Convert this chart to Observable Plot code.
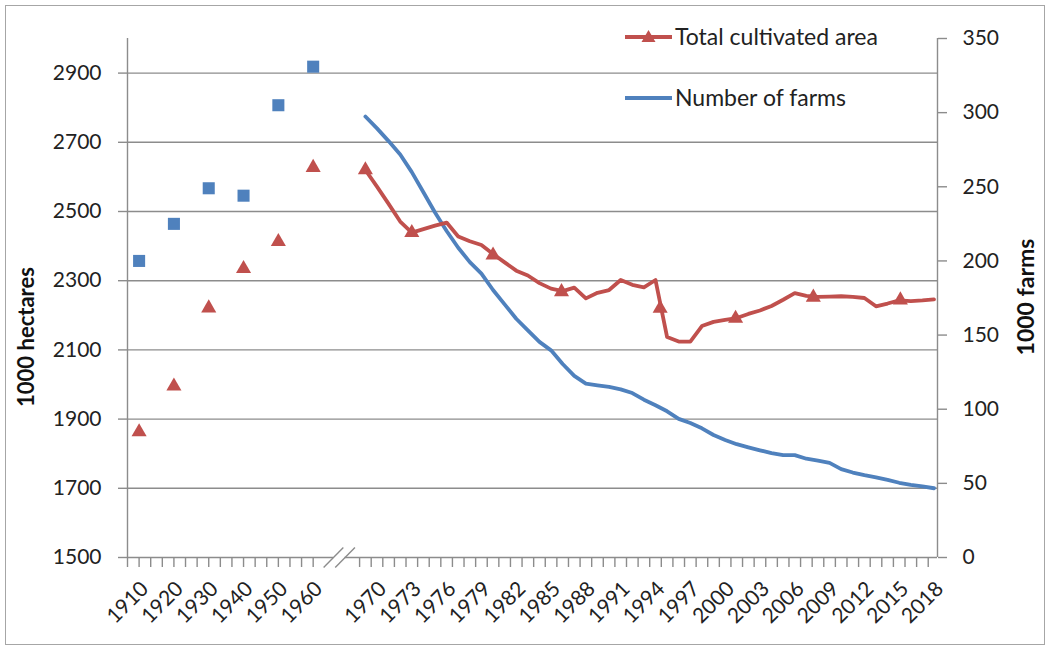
<!DOCTYPE html>
<html>
<head>
<meta charset="utf-8">
<script src="https://cdn.jsdelivr.net/npm/d3@7"></script>
<script src="https://cdn.jsdelivr.net/npm/@observablehq/plot@0.6"></script>
<style>
  body { margin: 0; background: #fff; font-family: Lato, "Noto Sans", sans-serif; }
  #wrap { position: relative; width: 1051px; height: 655px; overflow: hidden; background: #fff; }
  #frame { position: absolute; left: 5px; top: 5px; width: 1040px; height: 640px; border: 1px solid #a6a6a6; box-sizing: border-box; }
  #chart { position: absolute; left: 0; top: 0; }
  .ytitle { position: absolute; font-weight: bold; font-size: 22px; color: #111; white-space: nowrap;
            transform: translate(-50%, -50%) rotate(-90deg); }
  .leg { position: absolute; font-size: 23px; color: #222; white-space: nowrap; }
  .leg svg { position: absolute; left: 0; top: 0; }
  .leg span { position: absolute; left: 50px; top: 50%; transform: translateY(-54%); }
</style>
</head>
<body>
<div id="wrap">
  <div id="frame"></div>
  <div id="chart"></div>
  <div class="ytitle" style="left:25px; top:337px;">1000 hectares</div>
  <div class="ytitle" style="left:1025px; top:297px; font-size:23px;">1000 farms</div>
  <div class="leg" style="left:625px; top:25px; width:300px; height:24px;">
    <svg width="50" height="24"><line x1="0" x2="47" y1="12" y2="12" stroke="#C0504D" stroke-width="3.8"/><path d="M23.5,5 L30.5,17 L16.5,17 Z" fill="#C0504D"/></svg>
    <span>Total cultivated area</span>
  </div>
  <div class="leg" style="left:625px; top:86px; width:250px; height:24px;">
    <svg width="50" height="24"><line x1="0" x2="47" y1="12" y2="12" stroke="#4F81BD" stroke-width="3.8"/></svg>
    <span>Number of farms</span>
  </div>
</div>
<script>
// ---- data ----
const earlyYears = [1910, 1920, 1930, 1940, 1950, 1960];
const earlyArea  = [1863, 1995, 2221, 2335, 2413, 2627];   // 1000 hectares (left axis)
const earlyFarms = [200, 225, 249, 244, 305, 331];          // 1000 farms (right axis)

const lineYears = [1969, 1970, 1971, 1972, 1973, 1974, 1975, 1976, 1977, 1978,
                   1979, 1980, 1981, 1982, 1983, 1984, 1985, 1986, 1987, 1988,
                   1989, 1990, 1991, 1992, 1993, 1994, 1995, 1996, 1997, 1998,
                   1999, 2000, 2001, 2002, 2003, 2004, 2005, 2006, 2007, 2008,
                   2009, 2010, 2011, 2012, 2013, 2014, 2015, 2016, 2017, 2018];
const areaValues = [2620, 2572, 2522, 2471, 2439, 2449, 2459, 2468, 2428, 2414,
                    2403, 2377, 2353, 2329, 2315, 2293, 2277, 2270, 2280, 2249,
                    2265, 2273, 2302, 2288, 2281, 2302, 2137, 2124, 2124, 2169,
                    2181, 2187, 2192, 2204, 2214, 2227, 2245, 2264, 2256, 2253,
                    2254, 2255, 2253, 2250, 2226, 2234, 2243, 2241, 2243, 2246];
const farmValues = [297.4, 289.4, 280.8, 271.8, 259.9, 246.3, 232.7, 220.2, 208.9, 199.2,
                    191.4, 180.4, 170.7, 161.0, 153.2, 145.4, 139.7, 130.5, 122.5, 117.3,
                    116.1, 115.0, 113.4, 110.9, 106.4, 102.7, 98.6, 93.5, 90.7, 87.1,
                    82.6, 79.3, 76.4, 74.3, 72.3, 70.4, 69.0, 69.0, 66.6, 65.3,
                    63.8, 59.6, 57.3, 55.5, 54.1, 52.4, 50.4, 49.0, 47.9, 46.7];

// triangle markers on the area line
const markerYears = [1969, 1973, 1980, 1985.9, 1994.4, 2000.9, 2007.6, 2015.1];
const markerArea  = [2620, 2439, 2374, 2268, 2220, 2191, 2252, 2244];

const tickLabelsEarly = ["1910", "1920", "1930", "1940", "1950", "1960"];
const tickLabelsLate = ["1970", "1973", "1976", "1979", "1982", "1985", "1988", "1991", "1994",
                        "1997", "2000", "2003", "2006", "2009", "2012", "2015", "2018"];
const leftTicks  = [1500, 1700, 1900, 2100, 2300, 2500, 2700, 2900];
const rightTicks = [0, 50, 100, 150, 200, 250, 300, 350];

// ---- helpers ----
const RED = "#C0504D", BLUE = "#4F81BD", GRID = "#8c8c8c";
const Y0 = 1500, Y1 = 3000, F1 = 350;
const toLeft = f => Y0 + f * (Y1 - Y0) / F1;              // farms -> left-axis units
// category slot on the broken axis: decades 3 slots apart, then yearly after the break
const slot = y => y <= 1960 ? 1 + 0.3 * (y - 1910) : 20.5 + (y - 1969);
const XMAX = 69.8;

const early = earlyYears.map((y, i) => ({year: y, area: earlyArea[i], farms: earlyFarms[i]}));
const series = lineYears.map((y, i) => ({year: y, area: areaValues[i], farms: farmValues[i]}));
const markers = markerYears.map((y, i) => ({year: y, area: markerArea[i]}));

const labels = [...tickLabelsEarly, ...tickLabelsLate].map(t => ({pos: slot(+t), text: t}));

const minorSlots = [];
for (let k = 0; k <= 69; k++) if (k < 17 || k > 19) minorSlots.push(k);

const breakC = (slot(1960) + slot(1969)) / 2;
const u = (Y1 - Y0) / 519;  // left units per pixel (approx)
const slashes = [-0.5, 0.5].map(o => ({x1: breakC + o - 0.85, x2: breakC + o + 0.85, y1: Y0 - 10 * u, y2: Y0 + 10 * u}));

const chart = Plot.plot({
  width: 1051,
  height: 655,
  marginLeft: 127,
  marginRight: 114,
  marginTop: 38,
  marginBottom: 98,
  style: {fontFamily: "Lato, 'Noto Sans', sans-serif", fontSize: "21px", color: "#222", background: "transparent", overflow: "visible"},
  x: {type: "linear", domain: [0, XMAX], axis: null},
  y: {domain: [Y0, Y1], axis: null},
  marks: [
    Plot.ruleY(leftTicks.filter(d => d > Y0), {stroke: GRID, strokeWidth: 1.4}),
    Plot.ruleY([Y0], {stroke: GRID, strokeWidth: 1.4}),
    Plot.ruleX([0, XMAX], {y1: Y0, y2: Y1, stroke: GRID, strokeWidth: 1.4}),
    Plot.axisY({anchor: "left", ticks: leftTicks, tickFormat: d => String(d), tickSize: 9, tickPadding: 17, stroke: GRID, strokeWidth: 1.4, label: null, fill: "#222"}),
    Plot.axisY({anchor: "right", ticks: rightTicks.map(toLeft), tickFormat: d => String(Math.round((d - Y0) * F1 / (Y1 - Y0))),
                tickSize: 9, tickPadding: 16, stroke: GRID, strokeWidth: 1.4, label: null, fill: "#222"}),
    Plot.axisX({ticks: minorSlots, tickSize: 10, tickFormat: () => "", stroke: GRID, strokeWidth: 1.4, label: null}),
    // rotated year labels
    Plot.text(labels, {x: "pos", y: () => Y0, text: "text", rotate: -45, textAnchor: "end", lineAnchor: "top",
                       dx: 0, dy: 22, fill: "#222", fontSize: 21}),
    // axis break
    Plot.rect([0], {x1: breakC - 0.5, x2: breakC + 0.5, y1: Y0 - 4 * u, y2: Y0 + 4 * u, fill: "white"}),
    Plot.link(slashes, {x1: "x1", x2: "x2", y1: "y1", y2: "y2", stroke: GRID, strokeWidth: 1.4}),
    // data
    Plot.line(series, {x: d => slot(d.year), y: d => toLeft(d.farms), stroke: BLUE, strokeWidth: 3.8, strokeLinejoin: "round", strokeLinecap: "round"}),
    Plot.line(series, {x: d => slot(d.year), y: "area", stroke: RED, strokeWidth: 3.8, strokeLinejoin: "round", strokeLinecap: "round"}),
    Plot.dot(markers, {x: d => slot(d.year), y: "area", symbol: "triangle", r: 5.6, fill: RED, stroke: "none"}),
    Plot.dot(early, {x: d => slot(d.year), y: d => toLeft(d.farms), symbol: "square", r: 6.8, fill: BLUE, stroke: "none"}),
    Plot.dot(early, {x: d => slot(d.year), y: "area", symbol: "triangle", r: 5.6, fill: RED, stroke: "none"})
  ]
});
document.getElementById("chart").appendChild(chart);
</script>
</body>
</html>
